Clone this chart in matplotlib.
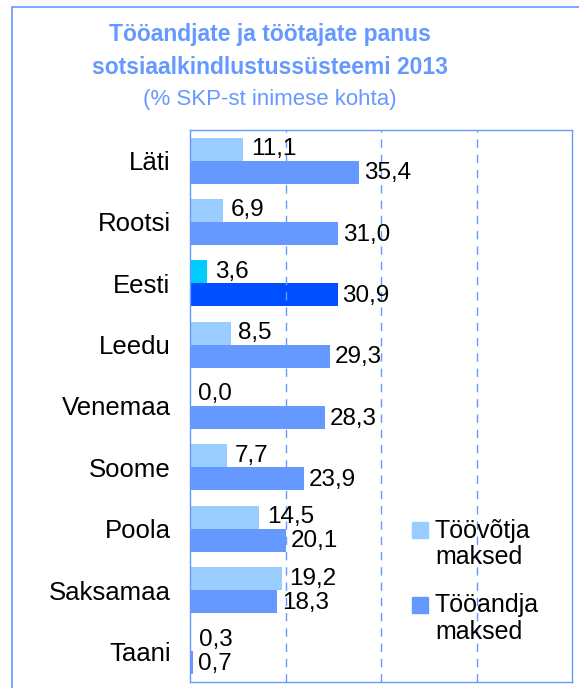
import numpy as np
import matplotlib.pyplot as plt
from matplotlib.patches import Rectangle

plt.rcParams['font.family'] = ['Liberation Sans', 'DejaVu Sans']

countries = ['Läti', 'Rootsi', 'Eesti', 'Leedu', 'Venemaa', 'Soome', 'Poola', 'Saksamaa', 'Taani']
employee = [11.1, 6.9, 3.6, 8.5, 0.0, 7.7, 14.5, 19.2, 0.3]
employer = [35.4, 31.0, 30.9, 29.3, 28.3, 23.9, 20.1, 18.3, 0.7]
legend_labels = ['Töövõtja\nmaksed', 'Tööandja\nmaksed']

light = '#99CCFF'
dark = '#6699FF'
light_ee = '#00CCFF'
dark_ee = '#0050FF'
edge = '#6699FF'

fig = plt.figure(figsize=(5.79, 6.88), dpi=100)
ax = fig.add_axes([190/579, 6/688, 382/579, 552/688])

y = np.arange(len(countries))
h = 0.375
c1 = [light_ee if c == 'Eesti' else light for c in countries]
c2 = [dark_ee if c == 'Eesti' else dark for c in countries]
ax.barh(y - h/2, employee, height=h, color=c1)
ax.barh(y + h/2, employer, height=h, color=c2)

for i in range(len(countries)):
    ax.text(employee[i] + 1.6, y[i] - h/2, f'{employee[i]:.1f}'.replace('.', ','),
            va='center', ha='left', fontsize=17.5)
    ax.text(employer[i] + 1.0, y[i] + h/2 + 0.02, f'{employer[i]:.1f}'.replace('.', ','),
            va='center', ha='left', fontsize=17.5)

ax.set_xlim(0, 80)
ax.set_ylim(len(countries) - 0.5, -0.5)
ax.set_yticks(y)
ax.set_yticklabels(countries, fontsize=18.5)
ax.set_xticks([])
ax.tick_params(axis='y', length=0, pad=14)
for x in [20, 40, 60]:
    ax.axvline(x, color=edge, linestyle=(0, (6, 5)), linewidth=1)
for s in ax.spines.values():
    s.set_color(edge)
    s.set_linewidth(1)

# legend
ax.add_patch(Rectangle((0.581, 0.261), 0.042, 0.028, transform=ax.transAxes,
                       color=light, clip_on=False))
ax.add_patch(Rectangle((0.581, 0.125), 0.042, 0.029, transform=ax.transAxes,
                       color=dark, clip_on=False))
ax.text(0.641, 0.25, legend_labels[0], transform=ax.transAxes, fontsize=18,
        va='center', ha='left', linespacing=1.15)
ax.text(0.641, 0.115, legend_labels[1], transform=ax.transAxes, fontsize=18,
        va='center', ha='left', linespacing=1.15)

# title
fig.text(0.466, 1 - 34/688, 'Tööandjate ja töötajate panus', ha='center', va='center',
         fontsize=16.5, fontweight='bold', color=edge)
fig.text(0.466, 1 - 67/688, 'sotsiaalkindlustussüsteemi 2013', ha='center', va='center',
         fontsize=16.5, fontweight='bold', color=edge)
fig.text(0.466, 1 - 100/688, '(% SKP-st inimese kohta)', ha='center', va='center',
         fontsize=16, color=edge)

# outer chart frame
fig.patches.append(Rectangle((12/579, -0.1), 1.2, 1.1 - 7/688, transform=fig.transFigure,
                             fill=False, edgecolor=edge, linewidth=1.2))

fig.savefig('out.png', dpi=100)
